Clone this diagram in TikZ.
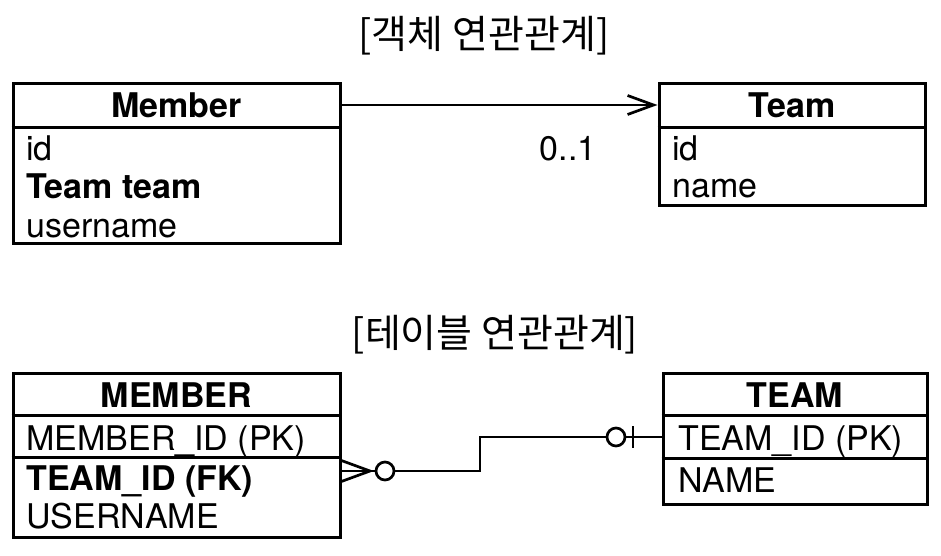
\documentclass[tikz,border=0pt]{standalone}
\usepackage{fontspec}
\setmainfont{TeX Gyre Heros}
\newfontfamily\kr{Noto Sans CJK KR}
\usetikzlibrary{arrows.meta,shadows}

\begin{document}
\begin{tikzpicture}[x=0.5pt,y=-0.5pt]
  \tikzstyle{entity} = [draw, line width=1.5pt, fill=white, inner sep=0pt, drop shadow={opacity=0.25, shadow xshift=0.8pt, shadow yshift=-1.2pt}]
  \tikzstyle{field} = [anchor=base west, inner sep=0pt, font=\fontsize{17}{19}\selectfont]
  \tikzstyle{head} = [inner sep=0pt, font=\bfseries\fontsize{17}{19}\selectfont]
  \tikzstyle{caption} = [inner sep=0pt, font=\kr\fontsize{19.5}{22}\selectfont]
  \tikzstyle{link} = [line width=1.35pt]
  \tikzstyle{ring} = [circle, draw, line width=1.35pt, fill=white, minimum size=9pt, inner sep=0pt]
  \useasboundingbox (0,0) rectangle (941,556);

  % object model
  \node[caption] (objCap) at (484,36) {[객체 연관관계]};

  \node[entity, minimum width=163.5pt, minimum height=79.5pt] (member) at (176.5,163.5) {};
  \draw[line width=1.5pt] ([yshift=-22.5pt]member.north west) -- ([yshift=-22.5pt]member.north east);
  \node[head] (memberHead) at (176.5,105) {Member};
  \node[field] (memberId) at (26,160) {id};
  \node[field] (memberTeam) at (26,198) {\bfseries Team team};
  \node[field] (memberName) at (26,237) {username};

  \node[entity, minimum width=133pt, minimum height=60.5pt] (team) at (792,144.5) {};
  \draw[line width=1.5pt] ([yshift=-22.5pt]team.north west) -- ([yshift=-22.5pt]team.north east);
  \node[head] (teamHead) at (792,105) {Team};
  \node[field] (teamId) at (672,160) {id};
  \node[field] (teamName) at (672,197) {name};

  \draw[link, -{Straight Barb[length=13pt, width=9.5pt]}] (memberHead -| member.east) -- (memberHead -| team.west);
  \node[field, anchor=base] (mult) at (568,160) {0..1};

  % table model
  \node[caption] (tblCap) at (495,335) {[테이블 연관관계]};

  \node[entity, minimum width=163.5pt, minimum height=82pt] (memberTbl) at (176.5,455) {};
  \draw[line width=1.5pt] ([yshift=-22pt]memberTbl.north west) -- ([yshift=-22pt]memberTbl.north east);
  \draw[line width=1.5pt] ([yshift=-43pt]memberTbl.north west) -- ([yshift=-43pt]memberTbl.north east);
  \node[head] (memberTblHead) at (176.5,395) {MEMBER};
  \node[field] (memberPk) at (26,450) {MEMBER\_ID (PK)};
  \node[field] (memberFk) at (26,490) {\bfseries TEAM\_ID (FK)};
  \node[field] (memberUser) at (26,528) {USERNAME};

  \node[entity, minimum width=132pt, minimum height=65.5pt] (teamTbl) at (795,438.5) {};
  \draw[line width=1.5pt] ([yshift=-22pt]teamTbl.north west) -- ([yshift=-22pt]teamTbl.north east);
  \draw[line width=1.5pt] ([yshift=-43.5pt]teamTbl.north west) -- ([yshift=-43.5pt]teamTbl.north east);
  \node[head] (teamTblHead) at (795,395) {TEAM};
  \node[field] (teamPk) at (678,450) {TEAM\_ID (PK)};
  \node[field] (teamCol) at (678,492) {NAME};

  % many -- zero or one
  \coordinate (fk) at (340,471);
  \coordinate (pk) at (663,437);
  \coordinate (bend) at (480,437);
  \node[ring] (fkRing) at (385,471) {};
  \node[ring] (pkRing) at (616,437) {};
  \draw[link] (fk) ++(0,-11) -- ++(30,11) -- ++(-30,11);
  \draw[link] (fk) -- (fkRing);
  \draw[link] (fkRing) -| (bend) -- (pkRing);
  \draw[link] (pkRing) -- (pk);
  \draw[link] (633,426) -- (633,448);
\end{tikzpicture}
\end{document}
